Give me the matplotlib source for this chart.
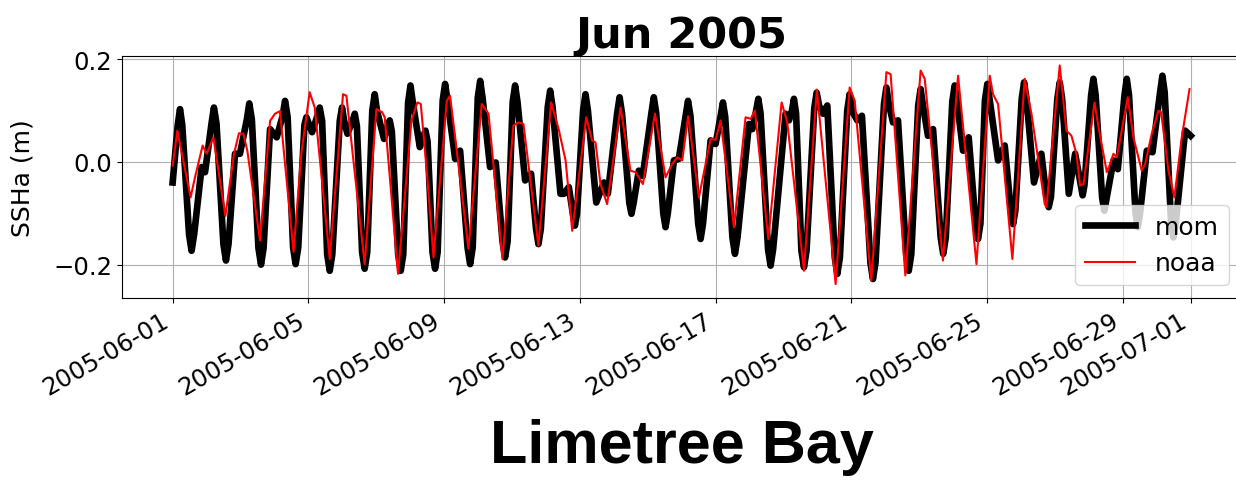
import numpy as np
import matplotlib.pyplot as plt
import matplotlib.dates as mdates
import pandas as pd

# inicio da serie
start = pd.Timestamp('2005-06-01')

# mom: horas desde 2005-06-01 00:00 e SSHa (m)
mom_hours = [0, 3.6, 5.2, 6.8, 11.6, 13.4, 15.2, 20.5, 22.9, 27.5, 29.2, 31.0,
             35.9, 37.7, 39.5, 44.1, 47.6, 52.5, 54.2, 56.0, 60.7, 62.5, 64.3,
             68.9, 73.6, 77.8, 79.5, 81.3, 85.2, 87.0, 88.8, 93.2, 94.6, 98.6,
             102.4, 104.0, 105.7, 109.3, 111.1, 112.9, 118.2, 119.8, 121.3, 123.6,
             127.3, 128.8, 130.3, 134.0, 135.8, 137.6, 141.2, 142.9, 144.5, 149.5,
             152.0, 153.5, 155.0, 159.5, 161.3, 163.1, 166.5, 168.2, 169.9, 174.8,
             177.3, 178.8, 180.3, 183.8, 185.6, 187.4, 191.0, 192.7, 194.4, 199.8,
             203.3, 208.6, 210.4, 212.2, 215.8, 217.5, 219.2, 224.5, 228.5, 233.3,
             235.1, 236.9, 240.5, 242.2, 243.9, 249.3, 253.5, 257.0, 258.7, 260.4,
             265.3, 267.0, 268.7, 274.3, 276.7, 280.2, 283.0, 284.5, 286.0, 290.3,
             292.0, 293.7, 299.6, 305.0, 307.8, 314.4, 316.1, 317.8, 323.0, 324.5,
             326.0, 329.7, 332.5, 338.6, 340.3, 342.0, 347.0, 348.6, 350.2, 354.5,
             358.0, 362.8, 364.5, 366.2, 371.7, 373.4, 375.1, 380.5, 384.0, 387.6,
             389.2, 390.8, 395.9, 397.7, 399.5, 407.6, 410.0, 412.7, 414.2, 415.8,
             421.1, 422.9, 424.7, 433.5, 435.9, 438.0, 439.4, 440.9, 444.7, 446.5,
             448.3, 453.8, 455.5, 457.2, 460.0, 463.0, 468.3, 470.1, 471.9, 477.1,
             478.8, 480.5, 484.2, 487.5, 493.5, 495.3, 497.1, 503.1, 504.8, 506.5,
             509.5, 513.0, 518.8, 520.6, 522.4, 527.3, 529.0, 530.7, 534.2, 537.8,
             543.2, 545.0, 546.8, 551.4, 553.1, 554.8, 559.0, 563.0, 567.9, 569.6,
             571.3, 574.5, 576.2, 577.9, 583.8, 588.5, 592.8, 594.4, 596.0, 600.5,
             602.2, 603.9, 609.2, 614.4, 618.0, 619.6, 621.2, 625.7, 627.4, 629.1,
             633.8, 638.3, 642.3, 643.6, 644.9, 649.6, 651.2, 652.8, 657.4, 659.0,
             660.6, 665.4, 668.5, 673.2, 674.8, 676.4, 681.0, 682.6, 684.2, 689.0,
             693.0, 698.4, 700.0, 701.6, 706.2, 707.8, 709.4, 716.1, 720.0]
mom_ssha = [-0.040, 0.072, 0.103, 0.072, -0.141, -0.173, -0.141, -0.010, -0.020, 0.075, 0.106, 0.075,
            -0.160, -0.192, -0.160, 0.016, 0.016, 0.083, 0.114, 0.083, -0.168, -0.200, -0.168,
            0.064, 0.048, 0.090, 0.119, 0.088, -0.167, -0.199, -0.167, 0.072, 0.087, 0.058,
            0.090, 0.106, 0.080, -0.180, -0.212, -0.180, 0.080, 0.106, 0.080, 0.055,
            0.080, 0.094, 0.070, -0.176, -0.208, -0.176, 0.100, 0.132, 0.100, 0.045,
            0.070, 0.081, 0.060, -0.180, -0.212, -0.180, 0.115, 0.149, 0.115, 0.029,
            0.050, 0.061, 0.040, -0.176, -0.208, -0.176, 0.120, 0.152, 0.120, 0.006,
            0.022, -0.167, -0.199, -0.167, 0.125, 0.158, 0.125, -0.010, -0.001, -0.155,
            -0.186, -0.155, 0.117, 0.149, 0.117, -0.036, -0.023, -0.130, -0.160, -0.130,
            0.107, 0.139, 0.107, -0.062, -0.062, -0.049, -0.100, -0.124, -0.100, 0.100,
            0.132, 0.100, -0.079, -0.040, -0.062, 0.095, 0.126, 0.095, -0.080, -0.101,
            -0.080, -0.017, -0.027, 0.095, 0.126, 0.095, -0.100, -0.127, -0.100, 0.003,
            0.006, 0.090, 0.119, 0.090, -0.120, -0.150, -0.120, 0.042, 0.035, 0.090,
            0.116, 0.088, -0.147, -0.179, -0.147, 0.074, 0.064, 0.100, 0.123, 0.095,
            -0.170, -0.202, -0.170, 0.094, 0.081, 0.100, 0.123, 0.095, -0.173, -0.205,
            -0.173, 0.105, 0.135, 0.110, 0.094, 0.110, -0.186, -0.218, -0.186, 0.100,
            0.132, 0.100, 0.081, 0.090, -0.196, -0.228, -0.196, 0.113, 0.145, 0.113,
            0.077, 0.081, -0.180, -0.212, -0.180, 0.110, 0.142, 0.110, 0.051, 0.064,
            -0.147, -0.179, -0.147, 0.117, 0.149, 0.117, 0.022, 0.048, -0.120, -0.150,
            -0.120, 0.120, 0.152, 0.120, 0.003, 0.032, -0.095, -0.121, -0.095, 0.123,
            0.155, 0.123, -0.040, 0.016, -0.068, -0.088, -0.068, 0.123, 0.155, 0.123,
            -0.062, 0.016, -0.045, -0.065, -0.045, 0.130, 0.162, 0.130, -0.070, -0.095,
            -0.070, 0.003, -0.014, 0.130, 0.162, 0.130, -0.100, -0.127, -0.100, 0.022,
            0.019, 0.136, 0.168, 0.136, -0.120, -0.147, -0.120, 0.061, 0.051]

# noaa: horas e SSHa (m)
noaa_hours = [0, 3.3, 12.7, 15.8, 21.2, 24.1, 28.8, 37.3, 43.4, 46.9,
              50.0, 52.8, 61.8, 68.9, 72.4, 75.9, 85.5, 91.0, 96.9, 100.5,
              111.1, 120.5, 122.9, 135.8, 144.1, 148.1, 150.0, 159.4, 168.9, 173.1,
              175.5, 179.7, 184.5, 193.9, 196.2, 202.1, 209.2, 218.6, 223.4, 233.3,
              241.0, 244.6, 248.1, 258.7, 267.7, 273.0, 277.9, 280.2, 282.6, 292.5,
              296.7, 299.1, 302.6, 307.3, 316.8, 323.8, 327.4, 332.6, 341.1, 348.6,
              353.3, 356.9, 360.4, 364.6, 372.2, 380.5, 384.0, 387.5, 397.0, 405.2,
              408.8, 411.8, 421.3, 430.7, 434.7, 446.5, 455.6, 468.9, 478.8, 482.4,
              494.1, 504.8, 507.8, 518.2, 529.0, 531.9, 544.8, 555.5, 568.5, 577.9,
              580.2, 583.8, 593.9, 602.6, 607.4, 616.8, 618.0, 627.4, 632.1, 635.7,
              639.2, 641.8, 644.2, 652.0, 654.8, 660.7, 663.0, 665.4, 667.8, 675.5,
              679.5, 685.4, 687.8, 692.5, 697.2, 699.1, 704.3, 708.5, 713.7, 719.2]
noaa_ssha = [-0.007, 0.061, -0.069, -0.030, 0.032, 0.016, 0.048, -0.105, 0.016, 0.056,
             0.055, 0.022, -0.153, 0.080, 0.094, 0.099, -0.175, 0.016, 0.136, 0.106,
             -0.189, 0.132, 0.129, -0.199, 0.103, 0.097, 0.087, -0.218, 0.081, 0.116,
             0.113, -0.017, -0.186, 0.119, 0.129, -0.004, -0.169, 0.113, 0.094, -0.189,
             0.071, 0.077, 0.074, -0.163, 0.116, 0.064, 0.003, -0.062, -0.134, 0.087,
             0.042, 0.038, -0.043, -0.082, 0.106, -0.017, -0.020, -0.043, 0.094, -0.030,
             -0.004, 0.009, 0.003, 0.089, -0.069, 0.045, 0.043, 0.081, -0.127, 0.087,
             0.084, 0.100, -0.150, 0.116, 0.077, -0.212, 0.141, -0.238, 0.145, 0.119,
             -0.231, 0.175, 0.171, -0.221, 0.178, 0.162, -0.192, 0.168, -0.199, 0.168,
             0.132, 0.113, -0.189, 0.162, 0.094, -0.082, -0.088, 0.188, 0.061, 0.051,
             0.016, -0.046, -0.043, 0.116, 0.068, -0.020, -0.004, 0.016, 0.009, 0.126,
             0.048, -0.017, -0.004, 0.055, 0.100, 0.097, -0.017, -0.069, 0.048, 0.142]

mom_time = start + pd.to_timedelta(mom_hours, unit='h')
noaa_time = start + pd.to_timedelta(noaa_hours, unit='h')

tick_days = [1, 5, 9, 13, 17, 21, 25, 29]
y_ticks = [-0.2, 0.0, 0.2]

fig = plt.figure(figsize=(12.36, 4.81), dpi=100)
ax = fig.add_axes([0.0985, 0.3784, 0.906, 0.5037])

ax.plot(mom_time, mom_ssha, color='black', linewidth=4.8, label='mom')
ax.plot(noaa_time, noaa_ssha, color='red', linewidth=1.5, label='noaa')

ax.set_ylim(-0.265, 0.207)
ax.set_yticks(y_ticks)
ax.xaxis.set_major_locator(mdates.DayLocator(bymonthday=tick_days))
ax.xaxis.set_major_formatter(mdates.DateFormatter('%Y-%m-%d'))
ax.tick_params(labelsize=17.5)
for lab in ax.get_xticklabels():
    lab.set_rotation(30)
    lab.set_ha('right')
ax.grid(True)

ax.set_ylabel('SSHa (m)', fontsize=18, labelpad=13)
ax.set_title('Jun 2005', fontsize=31, fontweight='bold')
ax.set_xlabel('Limetree Bay', fontsize=44, fontweight='bold', family='Liberation Sans', labelpad=14)
ax.legend(loc='lower right', fontsize=18)

fig.savefig('out.png', dpi=100)
